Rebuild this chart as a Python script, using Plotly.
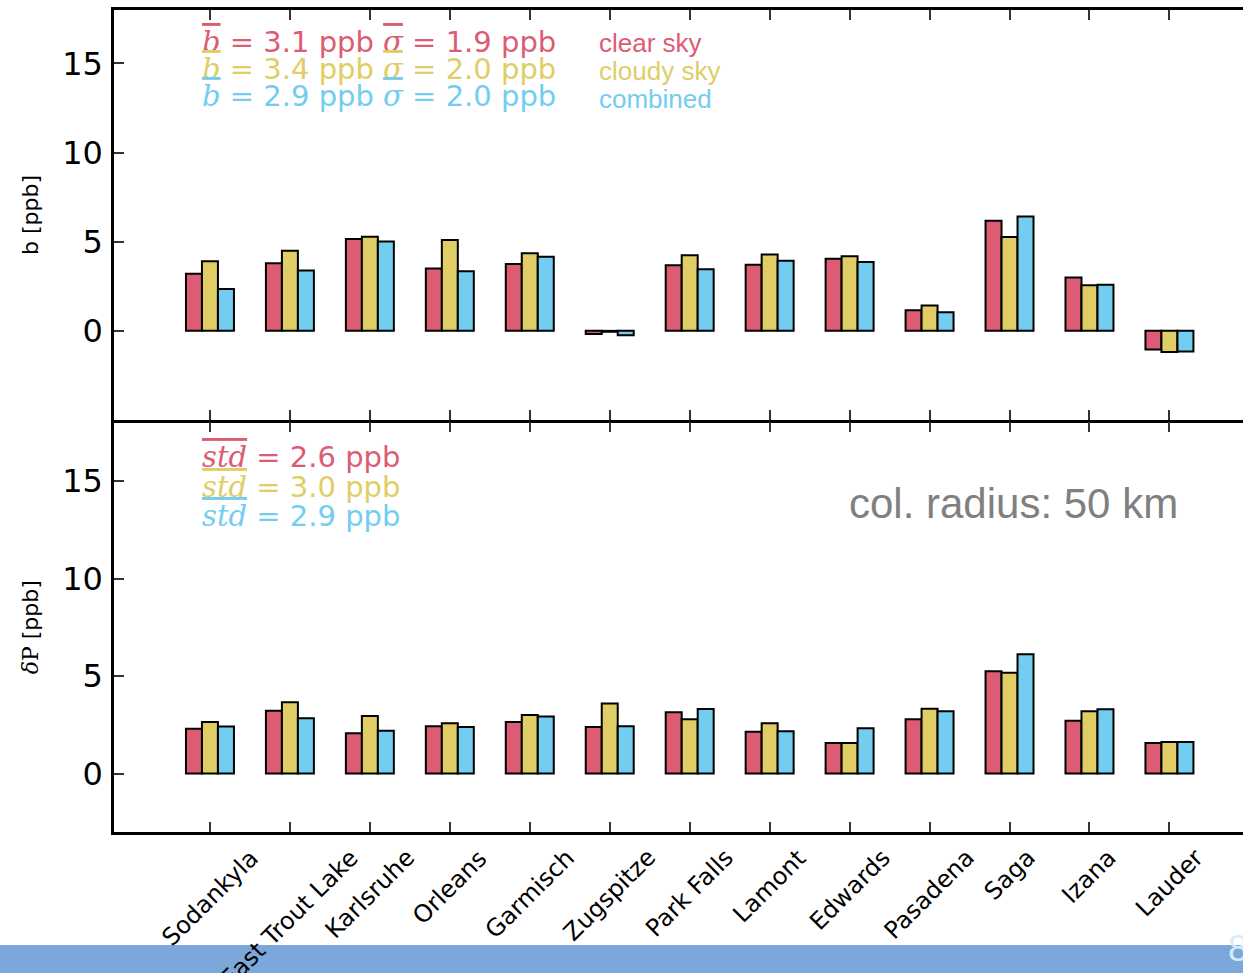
import plotly.graph_objects as go

stations = ["Sodankyla", "East Trout Lake", "Karlsruhe", "Orleans", "Garmisch", "Zugspitze",
            "Park Falls", "Lamont", "Edwards", "Pasadena", "Saga", "Izana", "Lauder"]

# top panel: bias b [ppb]
b_clear = [3.2, 3.8, 5.15, 3.5, 3.75, -0.18, 3.68, 3.71, 4.05, 1.16, 6.18, 2.99, -1.04]
b_cloudy = [3.9, 4.5, 5.28, 5.1, 4.35, -0.05, 4.24, 4.29, 4.18, 1.42, 5.26, 2.56, -1.18]
b_comb = [2.35, 3.38, 5.02, 3.34, 4.16, -0.24, 3.45, 3.94, 3.86, 1.04, 6.42, 2.59, -1.16]

# bottom panel: deltaP [ppb]
d_clear = [2.29, 3.22, 2.07, 2.42, 2.64, 2.39, 3.14, 2.14, 1.56, 2.78, 5.25, 2.71, 1.56]
d_cloudy = [2.64, 3.66, 2.95, 2.58, 3.0, 3.59, 2.78, 2.58, 1.56, 3.32, 5.17, 3.19, 1.61]
d_comb = [2.41, 2.83, 2.19, 2.39, 2.92, 2.42, 3.31, 2.17, 2.32, 3.19, 6.12, 3.29, 1.61]

series_names = ["clear sky", "cloudy sky", "combined"]
colors = ["#DC5C74", "#E0CD66", "#72CDF1"]

top_stats = [("3.1", "1.9"), ("3.4", "2.0"), ("2.9", "2.0")]
bot_stats = ["2.6", "3.0", "2.9"]

fig = go.Figure()
for name, vals, col in zip(series_names, [b_clear, b_cloudy, b_comb], colors):
    fig.add_trace(go.Bar(x=stations, y=vals, name=name, marker=dict(color=col, line=dict(color="black", width=2)),
                         xaxis="x", yaxis="y", showlegend=False, offsetgroup=name))
for name, vals, col in zip(series_names, [d_clear, d_cloudy, d_comb], colors):
    fig.add_trace(go.Bar(x=stations, y=vals, name=name, marker=dict(color=col, line=dict(color="black", width=2)),
                         xaxis="x2", yaxis="y2", showlegend=False, offsetgroup=name))

W, H = 1243, 973
ml, mr, mt, mb = 114, 0, 10, 141
PH = H - mt - mb
split = (832 - 420) / PH
lw = 2.5

axis_common = dict(showline=True, linecolor="black", linewidth=lw, ticks="inside", ticklen=10,
                   tickcolor="#333", tickwidth=1.5, showgrid=False, zeroline=False)
right_ticks = dict(side="right", showline=False, ticks="inside", ticklen=10, tickcolor="#333", tickwidth=1.5,
                   showticklabels=False, showgrid=False, zeroline=False, tickvals=[0, 5, 10, 15])
xr = [-1.2, 12.92]
ytickfont = dict(family="DejaVu Sans", size=32, color="black")
top_range = [-5, 18]
bot_range = [-3, 18]

fig.update_layout(
    width=W, height=H,
    margin=dict(l=ml, r=mr, t=mt, b=mb),
    paper_bgcolor="white", plot_bgcolor="white",
    barmode="group", bargap=0.4, bargroupgap=0,
    xaxis=dict(domain=[0, 1], anchor="y", range=xr, showticklabels=False, mirror="ticks", **axis_common),
    yaxis=dict(domain=[split, 1], anchor="x", range=top_range, tickvals=[0, 5, 10, 15],
               tickfont=ytickfont, ticklabelstandoff=2, mirror=False,
               title=dict(text="b [ppb]", font=dict(family="DejaVu Sans", size=22, color="black"), standoff=18),
               **axis_common),
    yaxis3=dict(overlaying="y", anchor="x", range=top_range, **right_ticks),
    xaxis2=dict(domain=[0, 1], anchor="y2", range=xr, showticklabels=False, mirror="ticks", **axis_common),
    yaxis2=dict(domain=[0, split - lw / PH], anchor="x2", range=bot_range, tickvals=[0, 5, 10, 15],
                tickfont=ytickfont, ticklabelstandoff=2, mirror=False,
                title=dict(text="<span style='font-family:DejaVu Serif'><i>δ</i>P</span> [ppb]",
                           font=dict(family="DejaVu Sans", size=22, color="black"), standoff=18),
                **axis_common),
    yaxis4=dict(overlaying="y2", anchor="x2", range=bot_range, **right_ticks),
)

def py(pix):
    return (H - mb - pix) / PH

def px(pix):
    return (pix - ml) / (W - ml - mr)

ann = []
ov = "font-family:DejaVu Serif;text-decoration:overline"
for i, ((bm, sm), col) in enumerate(zip(top_stats, colors)):
    txt = (f"<span style='{ov}'><i>b</i></span> = {bm} ppb "
           f"<span style='{ov}'><i>σ</i></span> = {sm} ppb")
    ann.append(dict(text=txt, xref="paper", yref="paper", x=px(200), y=py(42 + 27 * i),
                    xanchor="left", yanchor="middle", showarrow=False,
                    font=dict(family="DejaVu Sans", size=29, color=col)))
    ann.append(dict(text=series_names[i], xref="paper", yref="paper", x=px(597), y=py(43 + 28 * i),
                    xanchor="left", yanchor="middle", showarrow=False,
                    font=dict(family="Liberation Sans", size=26, color=col)))
for i, (sv, col) in enumerate(zip(bot_stats, colors)):
    txt = f"<span style='{ov}'><i>std</i></span> = {sv} ppb"
    ann.append(dict(text=txt, xref="paper", yref="paper", x=px(200), y=py(457 + 29.5 * i),
                    xanchor="left", yanchor="middle", showarrow=False,
                    font=dict(family="DejaVu Sans", size=29, color=col)))

ann.append(dict(text="col. radius: 50 km", xref="paper", yref="paper", x=px(1014), y=py(503),
                xanchor="center", yanchor="middle", showarrow=False,
                font=dict(family="Liberation Sans", size=42, color="#808080")))

for s in stations:
    ann.append(dict(text=s, xref="x2", yref="paper", x=s, y=0, xanchor="center", yanchor="top",
                    yshift=-9, textangle=-45, showarrow=False,
                    font=dict(family="DejaVu Sans", size=24, color="black")))

ann.append(dict(text="8", xref="paper", yref="paper", x=px(1226), y=py(948), xanchor="left", yanchor="middle",
                showarrow=False, font=dict(family="Liberation Sans", size=36, color="#D6ECFC")))

fig.update_layout(annotations=ann)

fig.add_shape(type="rect", xref="paper", yref="paper", x0=-0.2, x1=1.1, y0=py(990), y1=py(945),
              fillcolor="#7BA7DA", line=dict(width=0), layer="below")

fig.write_html("out.html", config={"displayModeBar": False},
               post_script="document.body.style.margin='0';document.body.style.overflow='hidden';")
